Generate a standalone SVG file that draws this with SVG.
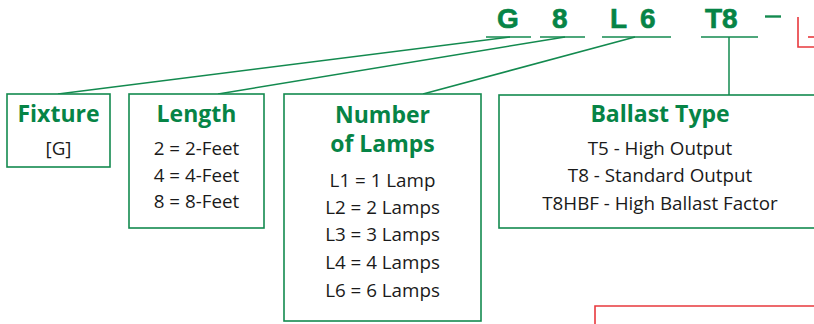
<svg xmlns="http://www.w3.org/2000/svg" width="814" height="324" viewBox="0 0 814 324">
<style>
.box{fill:#fff;stroke:#138a4f;stroke-width:1.6}
.ln{stroke:#138a4f;stroke-width:1.5;fill:none}
.red{stroke:#e8383d;stroke-width:1.6;fill:none}
.code{font-family:"Liberation Sans","Open Sans",sans-serif;font-weight:bold;font-size:28px;fill:#068446;stroke:#068446;stroke-width:0.6}
.title{font-family:"Open Sans","Liberation Sans",sans-serif;font-weight:bold;font-size:23px;fill:#068446;text-anchor:middle}
.body{font-family:"Open Sans","Liberation Sans",sans-serif;font-size:18.8px;fill:#1a1a1a;text-anchor:middle}
</style>
<rect width="814" height="324" fill="#fff"/>
<g id="code">
<text class="code" x="497" y="28">G</text>
<text class="code" x="552" y="28">8</text>
<text class="code" x="610" y="28">L</text>
<text class="code" x="640" y="28">6</text>
<text class="code" x="705" y="28">T8</text>
<line class="ln" x1="765" y1="16.5" x2="781" y2="16.5" style="stroke-width:2.4"/>
<line class="ln" x1="486" y1="37" x2="531" y2="37"/>
<line class="ln" x1="540" y1="37" x2="585" y2="37"/>
<line class="ln" x1="602" y1="37" x2="671" y2="37"/>
<line class="ln" x1="701" y1="37" x2="758" y2="37"/>
</g>
<g id="red-marks">
<polyline class="red" points="798,17 798,47 814,47"/>
<line class="red" x1="808" y1="37" x2="814" y2="37"/>
<polyline class="red" points="595,324 595,306 814,306"/>
</g>
<g id="connectors">
<line class="ln" x1="510" y1="37" x2="58" y2="94"/>
<line class="ln" x1="565" y1="37" x2="218" y2="94"/>
<line class="ln" x1="635" y1="37" x2="423" y2="94"/>
<line class="ln" x1="729" y1="37" x2="729" y2="95"/>
</g>
<g id="fixture">
<rect class="box" x="7" y="94" width="103" height="73"/>
<text class="title" x="58.5" y="122">Fixture</text>
<text class="body" x="58.5" y="155">[G]</text>
</g>
<g id="length">
<rect class="box" x="129" y="94" width="135" height="134"/>
<text class="title" x="196.5" y="122">Length</text>
<text class="body" x="196.5" y="155">2 = 2-Feet</text>
<text class="body" x="196.5" y="182">4 = 4-Feet</text>
<text class="body" x="196.5" y="208">8 = 8-Feet</text>
</g>
<g id="lamps">
<rect class="box" x="284" y="94" width="197" height="227"/>
<text class="title" x="382.5" y="123">Number</text>
<text class="title" x="382.5" y="152">of Lamps</text>
<text class="body" x="382.5" y="187">L1 = 1 Lamp</text>
<text class="body" x="382.5" y="214">L2 = 2 Lamps</text>
<text class="body" x="382.5" y="241">L3 = 3 Lamps</text>
<text class="body" x="382.5" y="269">L4 = 4 Lamps</text>
<text class="body" x="382.5" y="297">L6 = 6 Lamps</text>
</g>
<g id="ballast">
<rect class="box" x="499" y="95" width="330" height="133"/>
<text class="title" x="660" y="122">Ballast Type</text>
<text class="body" x="660" y="155">T5 - High Output</text>
<text class="body" x="660" y="182">T8 - Standard Output</text>
<text class="body" x="660" y="210">T8HBF - High Ballast Factor</text>
</g>
</svg>
